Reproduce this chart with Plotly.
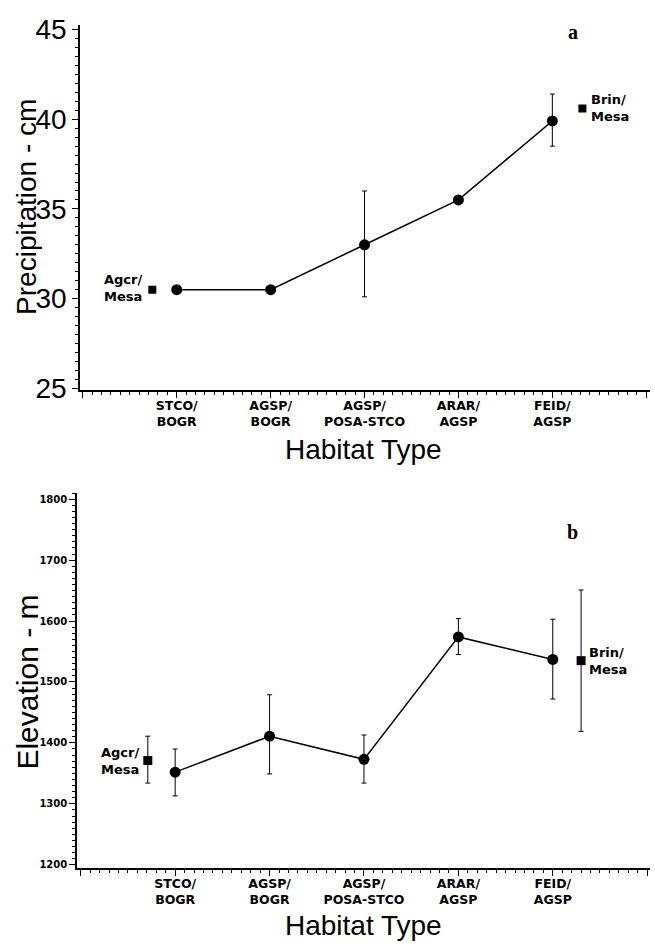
import plotly.graph_objects as go

# ---------------- data ----------------
habitat_labels = ["STCO/<br>BOGR", "AGSP/<br>BOGR", "AGSP/<br>POSA-STCO", "ARAR/<br>AGSP", "FEID/<br>AGSP"]
habitat_pos = [1, 2, 3, 4, 5]

# Panel a: precipitation (cm)
precip_mean = [30.5, 30.5, 33.0, 35.5, 39.9]
precip_high = [None, None, 36.0, None, 41.4]
precip_low = [None, None, 30.1, None, 38.5]
precip_ref_labels = ["Agcr/<br>Mesa", "Brin/<br>Mesa"]
precip_ref_pos = [0.74, 5.32]
precip_ref_mean = [30.5, 40.6]

# Panel b: elevation (m)
elev_mean = [1352, 1411, 1373, 1574, 1537]
elev_high = [1390, 1479, 1413, 1604, 1603]
elev_low = [1313, 1349, 1334, 1545, 1472]
elev_ref_labels = ["Agcr/<br>Mesa", "Brin/<br>Mesa"]
elev_ref_pos = [0.71, 5.30]
elev_ref_mean = [1371, 1535]
elev_ref_high = [1411, 1651]
elev_ref_low = [1334, 1419]

precip_ticks = [25, 30, 35, 40, 45]
elev_ticks = [1200, 1300, 1400, 1500, 1600, 1700, 1800]


def plus(m, h):
    return [None if v is None else v - a for a, v in zip(m, h)]


def minus(m, l):
    return [None if v is None else a - v for a, v in zip(m, l)]


fig = go.Figure()

err_style = dict(type="data", color="black", thickness=1, width=2.5, visible=True)

# panel a
fig.add_trace(go.Scatter(
    x=habitat_pos, y=precip_mean, mode="lines+markers",
    line=dict(color="black", width=1.5),
    marker=dict(symbol="circle", size=11, color="black"),
    error_y=dict(array=plus(precip_mean, precip_high), arrayminus=minus(precip_mean, precip_low),
                 symmetric=False, **err_style),
    xaxis="x", yaxis="y"))
fig.add_trace(go.Scatter(
    x=precip_ref_pos, y=precip_ref_mean, mode="markers",
    marker=dict(symbol="square", size=8, color="black"),
    xaxis="x", yaxis="y"))

# panel b
fig.add_trace(go.Scatter(
    x=habitat_pos, y=elev_mean, mode="lines+markers",
    line=dict(color="black", width=1.5),
    marker=dict(symbol="circle", size=11, color="black"),
    error_y=dict(array=plus(elev_mean, elev_high), arrayminus=minus(elev_mean, elev_low),
                 symmetric=False, **err_style),
    xaxis="x2", yaxis="y2"))
fig.add_trace(go.Scatter(
    x=elev_ref_pos, y=elev_ref_mean, mode="markers",
    marker=dict(symbol="square", size=9, color="black"),
    error_y=dict(array=plus(elev_ref_mean, elev_ref_high), arrayminus=minus(elev_ref_mean, elev_ref_low),
                 symmetric=False, **err_style),
    xaxis="x2", yaxis="y2"))

W, H = 655, 951
cat_vals = [0] + habitat_pos + [6]
cat_text = [""] + habitat_labels + [""]

xcommon = dict(
    tickmode="array", tickvals=cat_vals, ticktext=cat_text,
    ticks="outside", ticklen=6, tickwidth=1, tickcolor="black",
    ticklabelstandoff=-3,
    showline=True, linecolor="black", linewidth=1.5,
    showgrid=False, zeroline=False,
    tickfont=dict(family="DejaVu Sans", size=12.5, color="black", weight="bold"),
    minor=dict(dtick=0.1, ticks="outside", ticklen=3, tickwidth=1, tickcolor="black", showgrid=False),
)

fig.update_layout(
    width=W, height=H,
    margin=dict(l=0, r=0, t=0, b=0),
    paper_bgcolor="white", plot_bgcolor="white",
    showlegend=False,
    xaxis=dict(domain=[80 / W, 650 / W], range=[-0.03, 6.04], anchor="y", **xcommon),
    yaxis=dict(domain=[1 - 390 / H, 1 - 15 / H], range=[24.9, 45.27], anchor="x",
               tickmode="array", tickvals=precip_ticks,
               ticks="outside", ticklen=6, tickwidth=1, tickcolor="black",
               showline=True, linecolor="black", linewidth=1.5,
               showgrid=False, zeroline=False,
               tickfont=dict(family="Liberation Sans", size=28, color="black"),
               minor=dict(dtick=0.5, ticks="outside", ticklen=3, tickwidth=1, tickcolor="black", showgrid=False)),
    xaxis2=dict(domain=[77 / W, 650 / W], range=[-0.04, 6.03], anchor="y2", **xcommon),
    yaxis2=dict(domain=[1 - 880 / H, 1 - 495 / H], range=[1195, 1811], anchor="x2",
                tickmode="array", tickvals=elev_ticks,
                ticks="outside", ticklen=6, tickwidth=1, tickcolor="black",
                showline=True, linecolor="black", linewidth=1.5,
                showgrid=False, zeroline=False,
                tickfont=dict(family="DejaVu Sans", size=10, color="black", weight="bold"),
                minor=dict(dtick=10, ticks="outside", ticklen=3, tickwidth=1, tickcolor="black", showgrid=False)),
)

lab_font = dict(family="DejaVu Sans", size=13, color="black", weight="bold")
annotations = []
annotations.append(dict(x=precip_ref_pos[0], y=precip_ref_mean[0], xref="x", yref="y", text=precip_ref_labels[0],
                        showarrow=False, xanchor="right", yanchor="middle", xshift=-8, yshift=2, align="left", font=lab_font))
annotations.append(dict(x=precip_ref_pos[1], y=precip_ref_mean[1], xref="x", yref="y", text=precip_ref_labels[1],
                        showarrow=False, xanchor="left", yanchor="middle", xshift=7, align="left", font=lab_font))
annotations.append(dict(x=elev_ref_pos[0], y=elev_ref_mean[0], xref="x2", yref="y2", text=elev_ref_labels[0],
                        showarrow=False, xanchor="right", yanchor="middle", xshift=-7, align="left", font=lab_font))
annotations.append(dict(x=elev_ref_pos[1], y=elev_ref_mean[1], xref="x2", yref="y2", text=elev_ref_labels[1],
                        showarrow=False, xanchor="left", yanchor="middle", xshift=6, align="left", font=lab_font))

title_font = dict(family="Liberation Sans", size=28, color="black")
annotations += [
    dict(x=27 / W, y=1 - 202 / H, xref="paper", yref="paper", text="Precipitation - cm", textangle=-90,
         showarrow=False, xanchor="center", yanchor="middle", font=title_font),
    dict(x=28 / W, y=1 - 690 / H, xref="paper", yref="paper", text="Elevation - m", textangle=-90,
         showarrow=False, xanchor="center", yanchor="middle", font=dict(family="Liberation Sans", size=30, color="black")),
    dict(x=363 / W, y=1 - 451 / H, xref="paper", yref="paper", text="Habitat Type",
         showarrow=False, xanchor="center", yanchor="middle", font=title_font),
    dict(x=363 / W, y=1 - 939 / H, xref="paper", yref="paper", text="Habitat Type",
         showarrow=False, xanchor="center", yanchor="middle", font=title_font),
    dict(x=573 / W, y=1 - 23 / H, xref="paper", yref="paper", text="a",
         showarrow=False, xanchor="center", yanchor="middle",
         font=dict(family="Liberation Serif", size=20, color="black", weight="bold")),
    dict(x=572 / W, y=1 - 536 / H, xref="paper", yref="paper", text="b",
         showarrow=False, xanchor="center", yanchor="middle",
         font=dict(family="Liberation Serif", size=20, color="black", weight="bold")),
]
fig.update_layout(annotations=annotations)

fig.write_html("out.html")
